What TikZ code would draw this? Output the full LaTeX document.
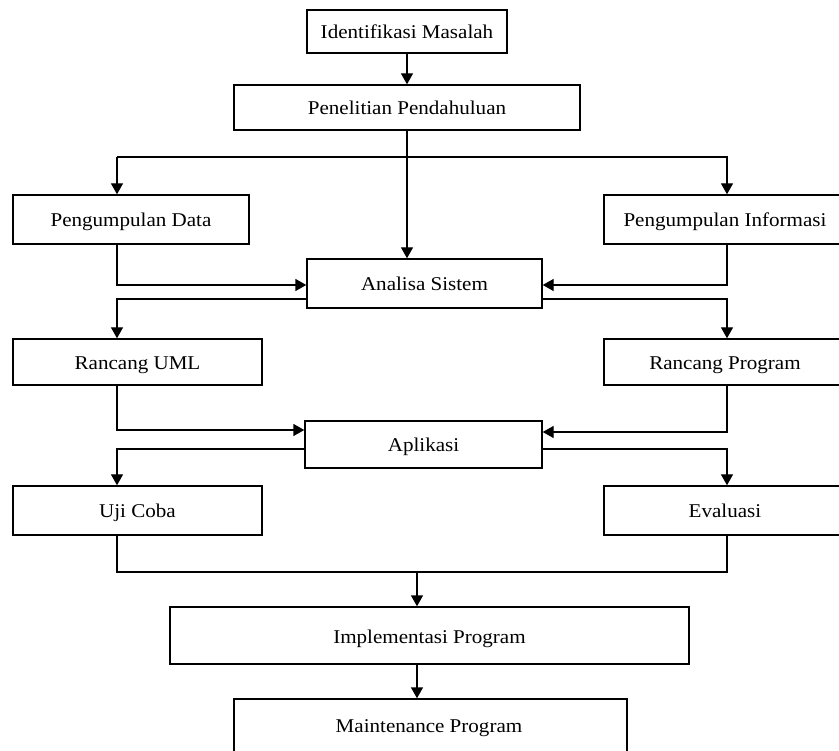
\documentclass[tikz,border=0pt]{standalone}
\usepackage{fontspec}
\setmainfont{Liberation Serif}[FakeStretch=1.08]
\usetikzlibrary{arrows.meta,calc}
\begin{document}
\begin{tikzpicture}[x=1pt,y=-1pt,
  box/.style={draw=black,line width=1.4pt,inner sep=0pt,fill=white,
    text height=19pt,text depth=4pt,
    font=\fontsize{19.5}{22}\selectfont},
  conn/.style={draw=black,line width=1.4pt},
  arr/.style={conn,-{Triangle[length=11pt,width=12pt]}}]
\useasboundingbox (0,0) rectangle (839,751);
\clip (0,0) rectangle (839,751);
% boxes
\node[box,minimum width=200pt,minimum height=43pt] (id) at (407,31.5) {Identifikasi Masalah};
\node[box,minimum width=346pt,minimum height=45pt] (pen) at (407,107.5) {Penelitian Pendahuluan};
\node[box,minimum width=236pt,minimum height=49pt] (pd) at (131,219.5) {Pengumpulan Data};
\node[box,minimum width=242pt,minimum height=49pt] (pi) at (725,219.5) {Pengumpulan Informasi};
\node[box,minimum width=235pt,minimum height=49pt] (an) at (424.5,283.5) {Analisa Sistem};
\node[box,minimum width=249pt,minimum height=46pt] (ru) at (137.5,362) {Rancang UML};
\node[box,minimum width=242pt,minimum height=46pt] (rp) at (725,362) {Rancang Program};
\node[box,minimum width=237pt,minimum height=47pt] (ap) at (423.5,444.5) {Aplikasi};
\node[box,minimum width=249pt,minimum height=49pt] (uc) at (137.5,510.5) {Uji Coba};
\node[box,minimum width=242pt,minimum height=49pt] (ev) at (725,510.5) {Evaluasi};
\node[box,minimum width=519pt,minimum height=57pt] (im) at (429.5,635.5) {Implementasi Program};
\node[box,minimum width=393pt,minimum height=62pt] (mt) at (430.5,730) {};
\node[box,draw=none,fill=none] (mtt) at (429,725) {Maintenance Program};
% helper coordinates
\coordinate (lx) at (117,0);
\coordinate (rx) at (727,0);
\coordinate (b1) at (407,157);
\coordinate (j) at (417,572);
% connectors
\draw[arr] (id.south) -- (id.south |- pen.north);
\draw[arr] (pen.south) -- (pen.south |- an.north);
\draw[conn] (b1) -- (b1 -| lx);
\draw[arr] (b1) -| (rx |- pi.north);
\draw[arr] (b1 -| lx) -- (lx |- pd.north);
\draw[arr] (lx |- pd.south) |- ([yshift=-1.5pt]an.west);
\draw[arr] (rx |- pi.south) |- ([yshift=-1.5pt]an.east);
\draw[arr] ([yshift=-15.5pt]an.west) -| (lx |- ru.north);
\draw[arr] ([yshift=-15.5pt]an.east) -| (rx |- rp.north);
\draw[arr] (lx |- ru.south) |- ([yshift=14.5pt]ap.west);
\draw[arr] (rx |- rp.south) |- ([yshift=12.5pt]ap.east);
\draw[arr] ([yshift=-4.5pt]ap.west) -| (lx |- uc.north);
\draw[arr] ([yshift=-4.5pt]ap.east) -| (rx |- ev.north);
\draw[conn] (lx |- uc.south) |- (j) -| (rx |- ev.south);
\draw[arr] (j) -- (j |- im.north);
\draw[arr] (im.south -| j) -- (j |- mt.north);
\end{tikzpicture}
\end{document}
